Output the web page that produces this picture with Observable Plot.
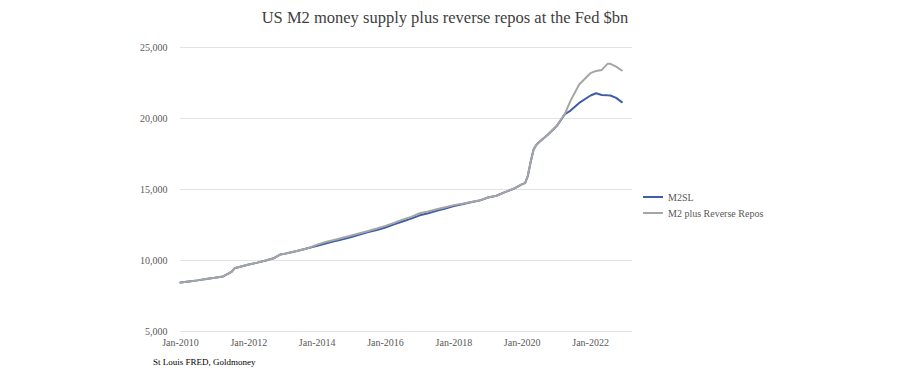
<!DOCTYPE html>
<html><head><meta charset="utf-8">
<script src="https://cdn.jsdelivr.net/npm/d3@7"></script>
<script src="https://cdn.jsdelivr.net/npm/@observablehq/plot@0.6"></script>
<style>
body{margin:0;background:#fff;}
#wrap{position:relative;width:900px;height:381px;font-family:"Liberation Serif",serif;overflow:hidden;}
#title{position:absolute;top:8px;left:445px;transform:translateX(-50%);white-space:nowrap;font-size:16.5px;color:#404040;}
#chart{position:absolute;top:36px;left:0;}
#legend{position:absolute;left:643px;top:189px;font-size:10px;color:#595959;}
.item{display:flex;align-items:center;height:16px;}
.sw{width:20px;height:2px;margin-right:5px;}
#caption{position:absolute;left:153px;top:357px;font-size:9px;color:#000;white-space:nowrap;}
</style></head>
<body><div id="wrap">
<div id="title">US M2 money supply plus reverse repos at the Fed $bn</div>
<div id="chart"></div>
<div id="legend"></div>
<div id="caption">St Louis FRED, Goldmoney</div>
</div>
<script>
const dates = [
"2010-01","2010-04","2010-07","2010-10",
"2011-01","2011-04","2011-07","2011-08","2011-10",
"2012-01","2012-04","2012-07","2012-10","2012-12",
"2013-01","2013-04","2013-07","2013-10",
"2014-01","2014-04","2014-07","2014-10",
"2015-01","2015-04","2015-07","2015-10",
"2016-01","2016-04","2016-07","2016-10",
"2017-01","2017-04","2017-07","2017-10",
"2018-01","2018-04","2018-07","2018-10",
"2019-01","2019-04","2019-07","2019-10",
"2020-01","2020-02","2020-03","2020-04","2020-05","2020-06","2020-07","2020-10",
"2021-01","2021-04","2021-06","2021-09",
"2022-01","2022-03","2022-05","2022-07","2022-08","2022-10","2022-12"
];
const m2sl = [
8450,8520,8600,8700,
8780,8880,9200,9450,9560,
9720,9850,10000,10180,10420,
10450,10580,10720,10880,
11040,11200,11350,11500,
11660,11830,12000,12150,
12320,12540,12750,12950,
13180,13330,13500,13660,
13840,13960,14100,14220,
14440,14560,14810,15050,
15380,15450,15950,16950,17800,18150,18350,18850,
19450,20300,20560,21100,
21620,21780,21660,21630,21620,21450,21150
];
const m2PlusRepos = [
8450,8520,8600,8700,
8780,8880,9200,9450,9560,
9720,9850,10000,10180,10420,
10450,10580,10720,10880,
11120,11300,11450,11600,
11760,11920,12080,12250,
12440,12650,12880,13070,
13330,13450,13610,13750,
13900,13990,14120,14220,
14440,14560,14810,15050,
15380,15450,15950,16950,17800,18150,18350,18850,
19450,20330,21260,22400,
23200,23350,23420,23850,23850,23650,23380
];
const seriesNames = ["M2SL", "M2 plus Reverse Repos"];
const seriesColors = ["#3e5ea9", "#a5a5a5"];
const xTickDates = ["2010-01-01","2012-01-01","2014-01-01","2016-01-01","2018-01-01","2020-01-01","2022-01-01"];
const xTickLabels = ["Jan-2010","Jan-2012","Jan-2014","Jan-2016","Jan-2018","Jan-2020","Jan-2022"];
const yTicks = [5000,10000,15000,20000,25000];

const parse = d3.utcParse("%Y-%m");
const rows = [];
dates.forEach((d,i)=>{
  rows.push({date: parse(d), value: m2sl[i], series: seriesNames[0]});
});
dates.forEach((d,i)=>{
  rows.push({date: parse(d), value: m2PlusRepos[i], series: seriesNames[1]});
});
const tickDates = xTickDates.map(d => new Date(d));

const chart = Plot.plot({
  width: 900,
  height: 316,
  marginTop: 11,
  marginBottom: 21,
  marginLeft: 180,
  marginRight: 268,
  style: {fontFamily: "Liberation Serif", fontSize: "10px", color: "#595959", background: "transparent"},
  x: {type: "utc", domain: [new Date("2010-01-01"), new Date("2023-03-25")]},
  y: {domain: [5000, 25000]},
  color: {domain: seriesNames, range: seriesColors},
  marks: [
    Plot.gridY(yTicks, {stroke: "#e3e3e3", strokeOpacity: 1, strokeWidth: 1}),
    Plot.axisY({ticks: yTicks, tickSize: 0, tickPadding: 13, tickFormat: d3.format(","), label: null, fill: "#595959"}),
    Plot.axisX({ticks: tickDates, tickSize: 0, tickPadding: 7, tickFormat: (d) => xTickLabels[tickDates.findIndex(t => +t === +d)], label: null, fill: "#595959"}),
    Plot.lineY(rows.filter(r => r.series === seriesNames[0]), {x: "date", y: "value", stroke: "series", strokeWidth: 2, strokeLinejoin: "round"}),
    Plot.lineY(rows.filter(r => r.series === seriesNames[1]), {x: "date", y: "value", stroke: "series", strokeWidth: 2, strokeLinejoin: "round"})
  ]
});
document.getElementById("chart").appendChild(chart);

const legend = document.getElementById("legend");
seriesNames.forEach((n,i)=>{
  const it = document.createElement("div");
  it.className = "item";
  const sw = document.createElement("span");
  sw.className = "sw";
  sw.style.background = seriesColors[i];
  const t = document.createElement("span");
  t.textContent = n;
  it.appendChild(sw); it.appendChild(t);
  legend.appendChild(it);
});
</script>
</body></html>
